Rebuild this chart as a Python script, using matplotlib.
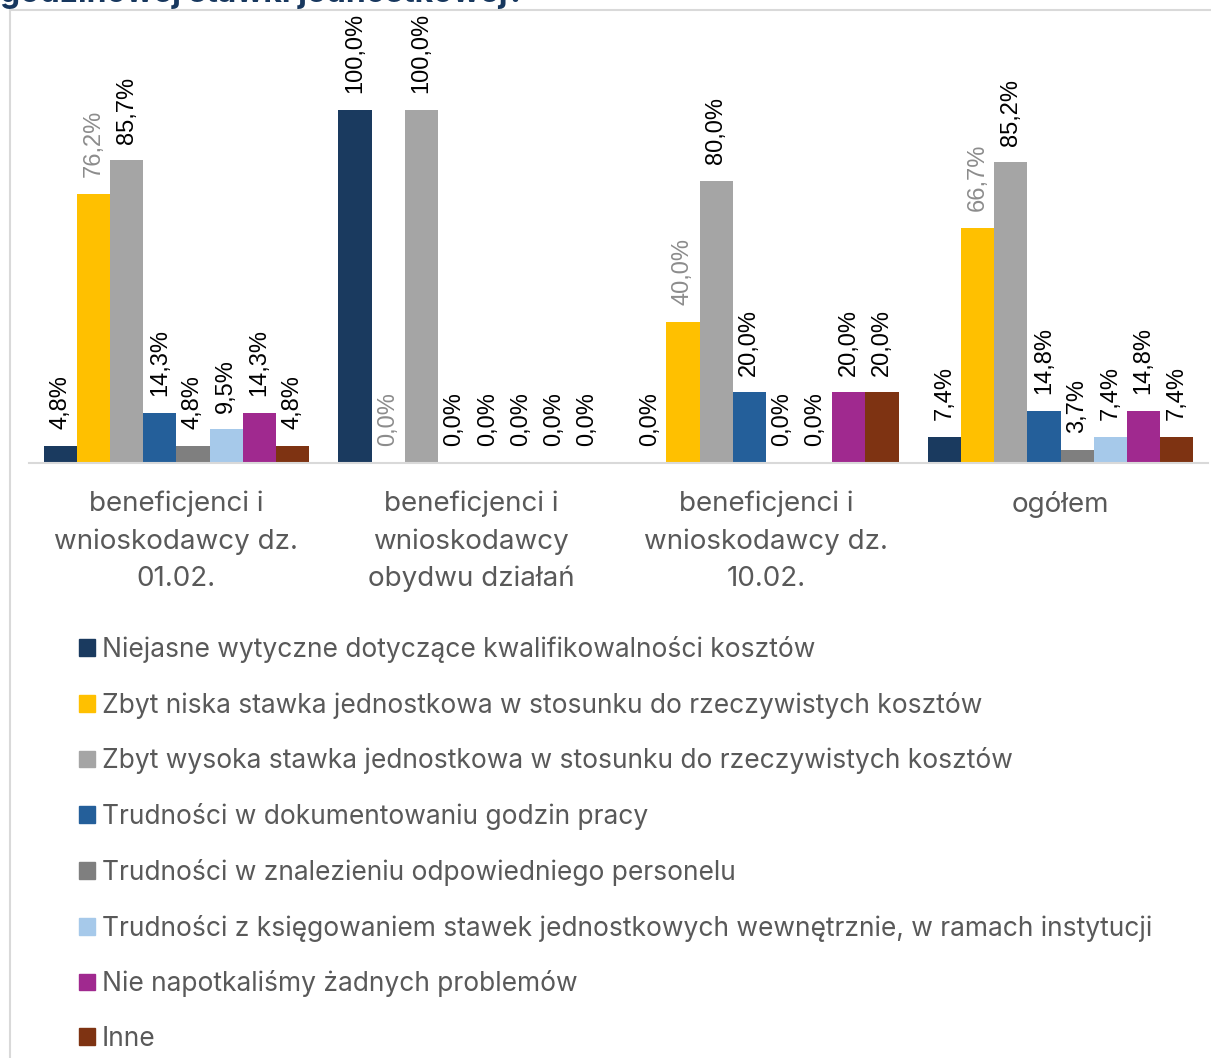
import numpy as np
import matplotlib.pyplot as plt
from matplotlib.patches import Rectangle

plt.rcParams["font.family"] = ["Inter", "DejaVu Sans"]

# dane
kategorie = ["beneficjenci i\nwnioskodawcy dz.\n01.02.",
             "beneficjenci i\nwnioskodawcy\nobydwu działań",
             "beneficjenci i\nwnioskodawcy dz.\n10.02.",
             "ogółem"]
serie = ["Niejasne wytyczne dotyczące kwalifikowalności kosztów",
         "Zbyt niska stawka jednostkowa w stosunku do rzeczywistych kosztów",
         "Zbyt wysoka stawka jednostkowa w stosunku do rzeczywistych kosztów",
         "Trudności w dokumentowaniu godzin pracy",
         "Trudności w znalezieniu odpowiedniego personelu",
         "Trudności z księgowaniem stawek jednostkowych wewnętrznie, w ramach instytucji",
         "Nie napotkaliśmy żadnych problemów",
         "Inne"]
kolory = ["#1a3a5f", "#ffc000", "#a5a5a5", "#245f9a", "#7f7f7f", "#a6c9ea", "#a0298f", "#7e3312"]
wartosci = [
    [4.8, 100.0, 0.0, 7.4],
    [76.2, 0.0, 40.0, 66.7],
    [85.7, 100.0, 80.0, 85.2],
    [14.3, 0.0, 20.0, 14.8],
    [4.8, 0.0, 0.0, 3.7],
    [9.5, 0.0, 0.0, 7.4],
    [14.3, 0.0, 20.0, 14.8],
    [4.8, 0.0, 20.0, 7.4],
]

W, H = 1211, 1058
fig = plt.figure(figsize=(W / 100, H / 100), dpi=100, facecolor="white")

# ramka obszaru wykresu i ucięty tytuł
fig.add_artist(plt.Line2D([10 / W, 10 / W], [0, 1 - 10 / H], color="#d9d9d9", lw=1.5))
fig.add_artist(plt.Line2D([10 / W, 1], [1 - 10 / H, 1 - 10 / H], color="#d9d9d9", lw=1.5))
fig.text(0 / W, 1 - 2 / H, "godzinowej stawki jednostkowej?", fontsize=23, fontweight="bold",
         color="#17375e", va="baseline", ha="left")

ax = fig.add_axes([29 / W, (H - 463) / H, (1208 - 29) / W, (463 - 12) / H])
x = np.arange(len(kategorie))
n = len(serie)
szer = 0.9 / n
for i in range(n):
    pos = x - 0.45 + szer * (i + 0.5)
    ax.bar(pos, wartosci[i], width=szer, color=kolory[i], label=serie[i])
    kol_txt = "#8c8c8c" if i == 1 else "black"
    for xp, v in zip(pos, wartosci[i]):
        ax.annotate(f"{v:.1f}%".replace(".", ","), (xp, v), xytext=(0, 12),
                    textcoords="offset points", rotation=90, ha="center", va="bottom",
                    fontsize=17, color=kol_txt, family=["Liberation Sans", "DejaVu Sans"])

ax.set_xlim(-0.5, 3.5)
ax.set_ylim(0, (463 - 12) / 353 * 100)
ax.set_xticks(x)
ax.set_xticklabels(kategorie, fontsize=20, color="#595959", linespacing=1.54)
ax.tick_params(axis="x", length=0, pad=20)
ax.set_yticks([])
for s in ["top", "left", "right"]:
    ax.spines[s].set_visible(False)
ax.spines["bottom"].set_color("#d9d9d9")
ax.spines["bottom"].set_linewidth(1.5)

# legenda
uchwyty = [Rectangle((0, 0), 1, 1, color=c) for c in kolory]
fig.legend(uchwyty, serie, loc="upper left", bbox_to_anchor=(55 / W, 1 - 612 / H),
           frameon=False, fontsize=19, labelcolor="#595959", handlelength=0.6,
           handleheight=0.6, handletextpad=0.27, labelspacing=1.09)

fig.savefig("out.png", dpi=100)
